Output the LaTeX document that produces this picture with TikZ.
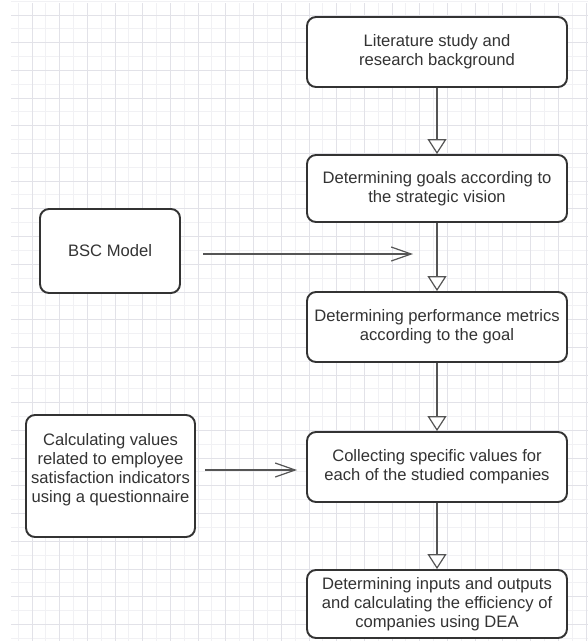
\documentclass[tikz,border=0pt]{standalone}
\usepackage{fontspec}
\setmainfont{Liberation Sans}
\usetikzlibrary{arrows.meta}
\definecolor{boxline}{HTML}{333333}
\definecolor{flowline}{HTML}{555555}
\definecolor{gridminor}{HTML}{F1F1F4}
\definecolor{gridmajor}{HTML}{E2E2E8}

\begin{document}
\begin{tikzpicture}[x=1pt,y=-1pt,
    stepbox/.style={draw=boxline,line width=1.9pt,rounded corners=9pt,fill=white,
        align=center,inner sep=0pt,text=boxline,font=\fontsize{16.6}{19}\selectfont},
    flow/.style={draw=flowline,line width=1.4pt,-{Triangle[width=19pt,length=15pt,fill=white,line width=1.2pt]}},
    feed/.style={draw=flowline,line width=1.4pt,-{Straight Barb[width=14pt,length=20pt,line width=1.2pt]}}]
    \useasboundingbox(0,0)rectangle(588,641);
    \fill[white](0,0)rectangle(588,641);

    % background grid
    \foreach \gx in {18,45.7,...,588}
        \draw[gridminor,line width=1pt](\gx,3)--(\gx,641);
    \foreach \gy in {1,28.7,...,641}
        \draw[gridminor,line width=1pt](11,\gy)--(588,\gy);
    \foreach \gx in {32,59.7,...,588}
        \draw[gridmajor,line width=1pt](\gx,3)--(\gx,641);
    \foreach \gy in {15,42.7,...,641}
        \draw[gridmajor,line width=1pt](11,\gy)--(588,\gy);

    % main column
    \node[stepbox,minimum width=260,minimum height=70](lit)at(437,52){Literature study and\\research background};
    \node[stepbox,minimum width=260,minimum height=67](goals)at(437,188.5){Determining goals according to\\the strategic vision};
    \node[stepbox,minimum width=260,minimum height=70](perf)at(437,327){Determining performance metrics\\according to the goal};
    \node[stepbox,minimum width=260,minimum height=70](coll)at(437,467){Collecting specific values for\\each of the studied companies};
    \node[stepbox,minimum width=260,minimum height=68](dea)at(437,604){Determining inputs and outputs\\and calculating the efficiency of\\companies using DEA};

    % side inputs
    \node[stepbox,minimum width=140,minimum height=84](bsc)at(110,251){BSC Model};
    \node[stepbox,minimum width=169,minimum height=122](calc)at(110.5,476){};
    \node[align=center,inner sep=0pt,text=boxline,font=\fontsize{16.6}{19}\selectfont](calctext)at(110.5,470)
        {Calculating values\\related to employee\\satisfaction indicators\\using a questionnaire};

    \draw[flow](lit)--(goals);
    \draw[flow](goals)--(perf);
    \draw[flow](perf)--(coll);
    \draw[flow](coll)--(dea);

    \coordinate(bscout)at(203,254);
    \coordinate(bscin)at(413,254);
    \draw[feed](bscout)--(bscin);
    \coordinate(calcout)at(205,470);
    \coordinate(callin)at(297,470);
    \draw[feed](calcout)--(callin);
\end{tikzpicture}
\end{document}
